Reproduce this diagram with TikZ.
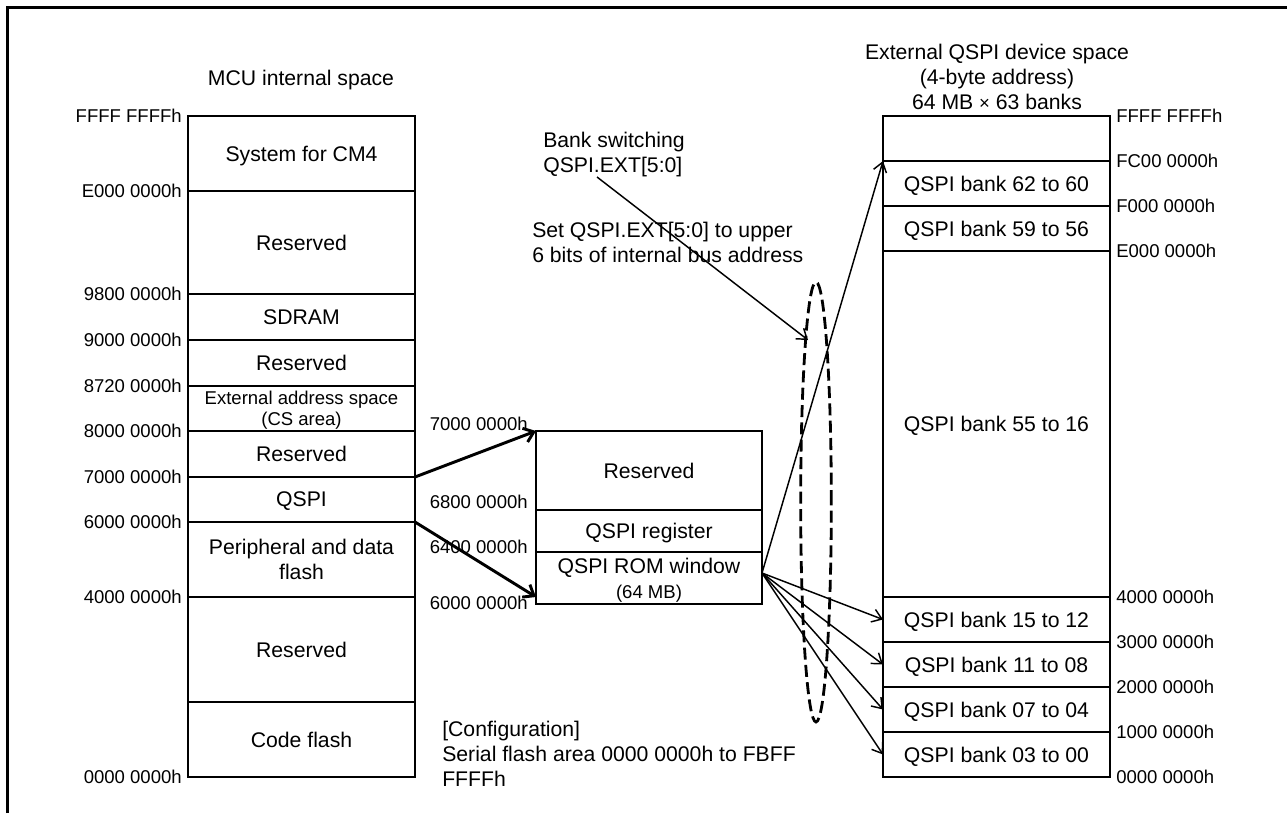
\documentclass[tikz,border=0pt]{standalone}
\usepackage{fontspec}
\setmainfont{Liberation Sans}
\usetikzlibrary{arrows.meta,shapes.geometric}
\newcommand\bigfont{\fontsize{15.9pt}{18.75pt}\selectfont}
\newcommand\smfont{\fontsize{13.9pt}{15.75pt}\selectfont}
% region box: name, x1, y1, x2, y2, text (coordinates in px)
\newcommand\regionbox[7][]{\node[region, #1, anchor=north west,
  minimum width={(#4-#2)*0.75pt}, minimum height={(#5-#3)*0.75pt}] (#2-#3) at (#2,#3) {};
  \node[boxtext, #1] (#6) at (#2-#3.center) {#7};}
\begin{document}
\begin{tikzpicture}[x=0.75pt,y=-0.75pt,
  region/.style={draw, line width=1.1pt, inner sep=0pt, outer sep=0pt},
  boxtext/.style={align=center, font=\bigfont, inner sep=0pt, text depth=0pt},
  addrl/.style={anchor=east, font=\smfont, inner sep=0pt, text depth=0pt},
  addrr/.style={anchor=west, font=\smfont, inner sep=0pt, text depth=0pt},
  note/.style={anchor=west, align=left, font=\bigfont, inner sep=0pt, text depth=0pt},
  title/.style={align=center, font=\bigfont, inner sep=0pt, text depth=0pt},
  thickarrow/.style={line width=2.2pt, -{Straight Barb[length=7pt,width=11pt]}},
  thinarrow/.style={line width=1.1pt, -{Straight Barb[length=7pt,width=10pt]}},
]
\useasboundingbox (0,0) rectangle (1287,813);
% frame
\draw[line width=2.25pt] (7,813) -- (7,8) -- (1287,8);

% ---------- MCU internal space ----------
\node[title] (mcutitle) at (301,78) {MCU internal space};
\regionbox{188}{116}{415}{191}{sys}{System for CM4}
\regionbox{188}{191}{415}{294}{res1}{Reserved}
\regionbox{188}{294}{415}{340}{sdram}{SDRAM}
\regionbox{188}{340}{415}{386}{res2}{Reserved}
\regionbox[font=\smfont]{188}{386}{415}{431}{ext}{External address space\\(CS area)}
\regionbox{188}{431}{415}{477}{res3}{Reserved}
\regionbox{188}{477}{415}{522}{qspi}{QSPI}
\regionbox{188}{522}{415}{597}{peri}{Peripheral and data\\flash}
\regionbox{188}{597}{415}{702}{res4}{Reserved}
\regionbox{188}{702}{415}{777}{code}{Code flash}

\node[addrl] (la1) at (182,116) {FFFF FFFFh};
\node[addrl] (la2) at (182,191) {E000 0000h};
\node[addrl] (la3) at (182,294) {9800 0000h};
\node[addrl] (la4) at (182,340) {9000 0000h};
\node[addrl] (la5) at (182,386) {8720 0000h};
\node[addrl] (la6) at (182,431) {8000 0000h};
\node[addrl] (la7) at (182,477) {7000 0000h};
\node[addrl] (la8) at (182,522) {6000 0000h};
\node[addrl] (la9) at (182,597) {4000 0000h};
\node[addrl] (la10) at (182,777) {0000 0000h};

% ---------- QSPI area ----------
\regionbox{536}{431}{762}{510}{mres}{Reserved}
\regionbox{536}{510}{762}{552}{mreg}{QSPI register}
\regionbox{536}{552}{762}{604}{mrom}{QSPI ROM window\\{\smfont (64 MB)}}

\node[addrl] (lm1) at (528,424) {7000 0000h};
\node[addrl] (lm2) at (528,502) {6800 0000h};
\node[addrl] (lm3) at (528,547) {6400 0000h};
\node[addrl] (lm4) at (528,603) {6000 0000h};

% ---------- External QSPI device space ----------
\node[title] (exttitle) at (997,77) {External QSPI device space\\(4-byte address)\\64 MB {\smfont ×} 63 banks};
\regionbox{883}{116}{1110}{161}{rtop}{}
\regionbox{883}{161}{1110}{206}{b62}{QSPI bank 62 to 60}
\regionbox{883}{206}{1110}{251}{b59}{QSPI bank 59 to 56}
\regionbox{883}{251}{1110}{597}{b55}{QSPI bank 55 to 16}
\regionbox{883}{597}{1110}{642}{b15}{QSPI bank 15 to 12}
\regionbox{883}{642}{1110}{687}{b11}{QSPI bank 11 to 08}
\regionbox{883}{687}{1110}{732}{b07}{QSPI bank 07 to 04}
\regionbox{883}{732}{1110}{777}{b03}{QSPI bank 03 to 00}

\node[addrr] (lr1) at (1116,116) {FFFF FFFFh};
\node[addrr] (lr2) at (1116,161) {FC00 0000h};
\node[addrr] (lr3) at (1116,206) {F000 0000h};
\node[addrr] (lr4) at (1116,251) {E000 0000h};
\node[addrr] (lr5) at (1116,597) {4000 0000h};
\node[addrr] (lr6) at (1116,642) {3000 0000h};
\node[addrr] (lr7) at (1116,687) {2000 0000h};
\node[addrr] (lr8) at (1116,732) {1000 0000h};
\node[addrr] (lr9) at (1116,777) {0000 0000h};

% ---------- notes ----------
\node[note] (bsw) at (543,152.5) {Bank switching\\QSPI.EXT[5:0]};
\node[note] (setn) at (532,242.5) {Set QSPI.EXT[5:0] to upper\\6 bits of internal bus address};
\node[note] (conf) at (442,754) {[Configuration]\\Serial flash area 0000 0000h to FBFF\\FFFFh};

% ---------- dashed oval ----------
\node[ellipse, draw, dash pattern=on 9pt off 4pt, line width=2.1pt, inner sep=0pt,
      minimum width=23pt, minimum height=330pt] (oval) at (816,502) {};

% ---------- connectors ----------
\coordinate (romin) at (536,597);
\coordinate (romout) at (762,573);
\coordinate (bs1) at (597,177);
\coordinate (bs2) at (808,340);

\draw[thickarrow] (188-477.north east) -- (536-431.north west);
\draw[thickarrow] (188-477.south east) -- (romin);

\draw[thinarrow] (romout) -- (883-161.north west);
\draw[thinarrow] (romout) -- (883-597.west);
\draw[thinarrow] (romout) -- (883-642.west);
\draw[thinarrow] (romout) -- (883-687.west);
\draw[thinarrow] (romout) -- (883-732.west);

\draw[thinarrow] (bs1) -- (bs2);
\end{tikzpicture}
\end{document}
